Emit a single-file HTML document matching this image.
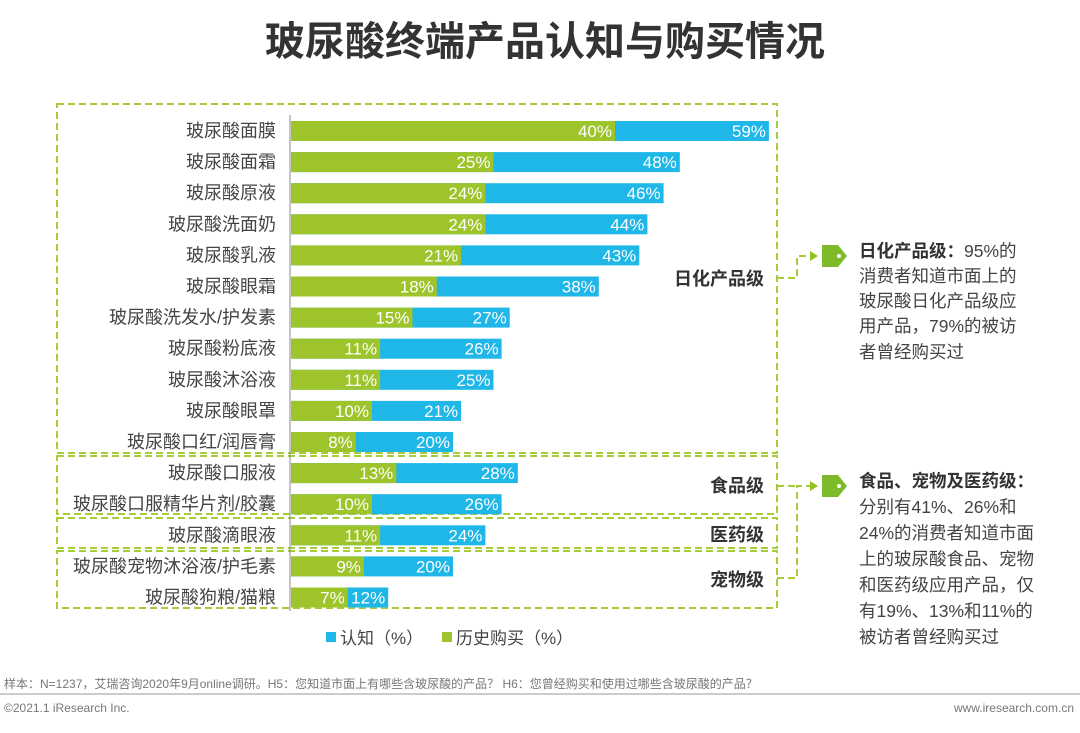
<!DOCTYPE html>
<html><head><meta charset="utf-8"><style>
body{margin:0;background:#fff;width:1080px;height:728px;overflow:hidden;font-family:"Liberation Sans","Noto Sans CJK SC",sans-serif}
</style></head><body>
<svg id="chart" width="1080" height="728" xmlns="http://www.w3.org/2000/svg" style="font-family:'Liberation Sans','Noto Sans CJK SC',sans-serif">
<text x="545" y="55" text-anchor="middle" font-size="40" font-weight="bold" fill="#333">玻尿酸终端产品认知与购买情况</text>
<g id="boxes" fill="none" stroke="#a6cc3a" stroke-width="2" stroke-dasharray="7,4">
<rect x="57" y="104" width="720" height="349"/>
<rect x="57" y="456" width="720" height="58"/>
<rect x="57" y="518" width="720" height="30"/>
<rect x="57" y="551" width="720" height="57"/>
<path d="M777 278 H797 V256 H812"/>
<path d="M777 486 H797 M777 578 H797 V486 H812"/>
</g>
<path d="M810 251 L818 256 L810 261Z" fill="#8dc21f"/>
<path d="M810 481 L818 486 L810 491Z" fill="#8dc21f"/>
<path d="M822 245 H838 L847 256 L838 267 H822Z" fill="#7dbb2a"/>
<circle cx="839" cy="256" r="2" fill="#fff"/>
<path d="M822 475 H838 L847 486 L838 497 H822Z" fill="#7dbb2a"/>
<circle cx="839" cy="486" r="2" fill="#fff"/>
<g font-size="17.5" fill="#444">
<text x="859" y="257"><tspan font-weight="bold" fill="#333">日化产品级：</tspan>95%的</text>
<text x="859" y="282">消费者知道市面上的</text>
<text x="859" y="307">玻尿酸日化产品级应</text>
<text x="859" y="332">用产品，79%的被访</text>
<text x="859" y="358">者曾经购买过</text>
<text x="859" y="487" font-weight="bold" fill="#333">食品、宠物及医药级：</text>
<text x="859" y="513">分别有41%、26%和</text>
<text x="859" y="539">24%的消费者知道市面</text>
<text x="859" y="565">上的玻尿酸食品、宠物</text>
<text x="859" y="591">和医药级应用产品，仅</text>
<text x="859" y="617">有19%、13%和11%的</text>
<text x="859" y="643">被访者曾经购买过</text>
</g>
<g font-size="18" font-weight="bold" fill="#333" text-anchor="end">
<text x="764" y="285">日化产品级</text>
<text x="764" y="492">食品级</text>
<text x="764" y="541">医药级</text>
<text x="764" y="586">宠物级</text>
</g>
<line x1="290" y1="115" x2="290" y2="611" stroke="#888" stroke-width="1"/>
<g id="bars"></g>
<g font-size="17" fill="#444">
<rect x="326" y="632" width="10" height="10" fill="#1fb7e8"/><text x="340" y="644">认知（%）</text>
<rect x="442" y="632" width="10" height="10" fill="#9dc42a"/><text x="456" y="644">历史购买（%）</text>
</g>
<text x="4" y="688" font-size="12" fill="#777">样本：N=1237，艾瑞咨询2020年9月online调研。H5：您知道市面上有哪些含玻尿酸的产品？ H6：您曾经购买和使用过哪些含玻尿酸的产品？</text>
<line x1="0" y1="694" x2="1080" y2="694" stroke="#999" stroke-width="1"/>
<text x="4" y="712" font-size="12" fill="#777">©2021.1 iResearch Inc.</text>
<text x="1074" y="712" font-size="12" fill="#777" text-anchor="end">www.iresearch.com.cn</text>
</svg>
<script>
const categories=["玻尿酸面膜","玻尿酸面霜","玻尿酸原液","玻尿酸洗面奶","玻尿酸乳液","玻尿酸眼霜","玻尿酸洗发水/护发素","玻尿酸粉底液","玻尿酸沐浴液","玻尿酸眼罩","玻尿酸口红/润唇膏","玻尿酸口服液","玻尿酸口服精华片剂/胶囊","玻尿酸滴眼液","玻尿酸宠物沐浴液/护毛素","玻尿酸狗粮/猫粮"];
const awareness=[59,48,46,44,43,38,27,26,25,21,20,28,26,24,20,12];
const purchase=[40,25,24,24,21,18,15,11,11,10,8,13,10,11,9,7];
const NS="http://www.w3.org/2000/svg";
const g=document.getElementById('bars');
function xs(v){return 291+v*8.1;}
function ys(i){return 131+i*31.1;}
function mk(t,a){const e=document.createElementNS(NS,t);for(const k in a)e.setAttribute(k,a[k]);g.appendChild(e);return e;}
categories.forEach((c,i)=>{
const y=ys(i);
const lb=mk('text',{x:276,y:y+6,'text-anchor':'end','font-size':18,fill:'#444'});lb.textContent=c;


const b=mk('rect',{x:xs(0),y:y-10,width:xs(awareness[i])-xs(0),height:20,fill:'#1fb7e8'});


const p=mk('rect',{x:xs(0),y:y-10,width:xs(purchase[i])-xs(0),height:20,fill:'#9dc42a'});


const t1=mk('text',{x:xs(purchase[i])-3,y:y+6,'text-anchor':'end','font-size':17,fill:'#fff'});t1.textContent=purchase[i]+'%';


const t2=mk('text',{x:xs(awareness[i])-3,y:y+6,'text-anchor':'end','font-size':17,fill:'#fff'});t2.textContent=awareness[i]+'%';


});
</script>
</body></html>
